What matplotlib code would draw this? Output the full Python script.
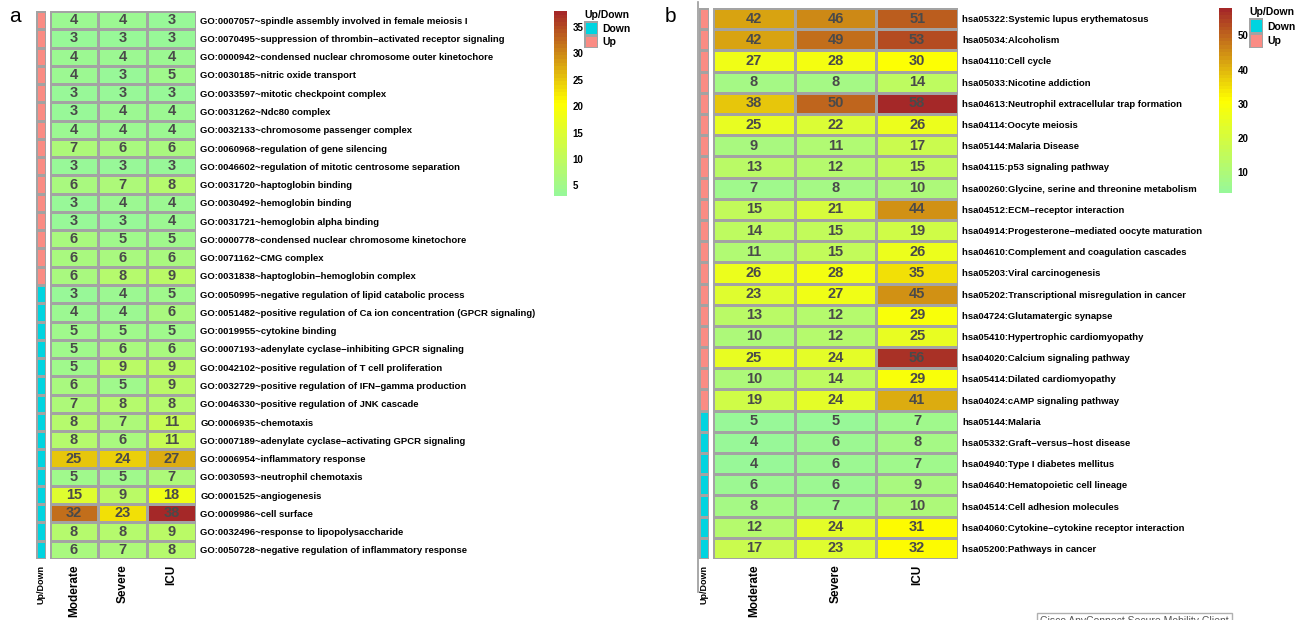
import numpy as np
import matplotlib
matplotlib.use('Agg')
import matplotlib.pyplot as plt
from matplotlib.colors import LinearSegmentedColormap, ListedColormap

plt.rcParams['font.family'] = ['Liberation Sans', 'DejaVu Sans']

# ---------------- data ----------------
conditions = ['Moderate', 'Severe', 'ICU']

go_terms = [
    'GO:0007057~spindle assembly involved in female meiosis I',
    'GO:0070495~suppression of thrombin\u2212activated receptor signaling',
    'GO:0000942~condensed nuclear chromosome outer kinetochore',
    'GO:0030185~nitric oxide transport',
    'GO:0033597~mitotic checkpoint complex',
    'GO:0031262~Ndc80 complex',
    'GO:0032133~chromosome passenger complex',
    'GO:0060968~regulation of gene silencing',
    'GO:0046602~regulation of mitotic centrosome separation',
    'GO:0031720~haptoglobin binding',
    'GO:0030492~hemoglobin binding',
    'GO:0031721~hemoglobin alpha binding',
    'GO:0000778~condensed nuclear chromosome kinetochore',
    'GO:0071162~CMG complex',
    'GO:0031838~haptoglobin\u2212hemoglobin complex',
    'GO:0050995~negative regulation of lipid catabolic process',
    'GO:0051482~positive regulation of Ca ion concentration (GPCR signaling)',
    'GO:0019955~cytokine binding',
    'GO:0007193~adenylate cyclase\u2212inhibiting GPCR signaling',
    'GO:0042102~positive regulation of T cell proliferation',
    'GO:0032729~positive regulation of IFN\u2212gamma production',
    'GO:0046330~positive regulation of JNK cascade',
    'GO:0006935~chemotaxis',
    'GO:0007189~adenylate cyclase\u2212activating GPCR signaling',
    'GO:0006954~inflammatory response',
    'GO:0030593~neutrophil chemotaxis',
    'GO:0001525~angiogenesis',
    'GO:0009986~cell surface',
    'GO:0032496~response to lipopolysaccharide',
    'GO:0050728~negative regulation of inflammatory response',
]
go_moderate = [4, 3, 4, 4, 3, 3, 4, 7, 3, 6, 3, 3, 6, 6, 6,
               3, 4, 5, 5, 5, 6, 7, 8, 8, 25, 5, 15, 32, 8, 6]
go_severe = [4, 3, 4, 3, 3, 4, 4, 6, 3, 7, 4, 3, 5, 6, 8,
             4, 4, 5, 6, 9, 5, 8, 7, 6, 24, 5, 9, 23, 8, 7]
go_icu = [3, 3, 4, 5, 3, 4, 4, 6, 3, 8, 4, 4, 5, 6, 9,
          5, 6, 5, 6, 9, 9, 8, 11, 11, 27, 7, 18, 38, 9, 8]
go_updown = ['Up', 'Up', 'Up', 'Up', 'Up', 'Up', 'Up', 'Up', 'Up', 'Up',
             'Up', 'Up', 'Up', 'Up', 'Up',
             'Down', 'Down', 'Down', 'Down', 'Down', 'Down', 'Down', 'Down',
             'Down', 'Down', 'Down', 'Down', 'Down', 'Down', 'Down']

kegg_terms = [
    'hsa05322:Systemic lupus erythematosus',
    'hsa05034:Alcoholism',
    'hsa04110:Cell cycle',
    'hsa05033:Nicotine addiction',
    'hsa04613:Neutrophil extracellular trap formation',
    'hsa04114:Oocyte meiosis',
    'hsa05144:Malaria Disease',
    'hsa04115:p53 signaling pathway',
    'hsa00260:Glycine, serine and threonine metabolism',
    'hsa04512:ECM\u2212receptor interaction',
    'hsa04914:Progesterone\u2212mediated oocyte maturation',
    'hsa04610:Complement and coagulation cascades',
    'hsa05203:Viral carcinogenesis',
    'hsa05202:Transcriptional misregulation in cancer',
    'hsa04724:Glutamatergic synapse',
    'hsa05410:Hypertrophic cardiomyopathy',
    'hsa04020:Calcium signaling pathway',
    'hsa05414:Dilated cardiomyopathy',
    'hsa04024:cAMP signaling pathway',
    'hsa05144:Malaria',
    'hsa05332:Graft\u2212versus\u2212host disease',
    'hsa04940:Type I diabetes mellitus',
    'hsa04640:Hematopoietic cell lineage',
    'hsa04514:Cell adhesion molecules',
    'hsa04060:Cytokine\u2212cytokine receptor interaction',
    'hsa05200:Pathways in cancer',
]
kegg_moderate = [42, 42, 27, 8, 38, 25, 9, 13, 7, 15, 14, 11, 26, 23, 13,
                 10, 25, 10, 19, 5, 4, 4, 6, 8, 12, 17]
kegg_severe = [46, 49, 28, 8, 50, 22, 11, 12, 8, 21, 15, 15, 28, 27, 12,
               12, 24, 14, 24, 5, 6, 6, 6, 7, 24, 23]
kegg_icu = [51, 53, 30, 14, 58, 26, 17, 15, 10, 44, 19, 26, 35, 45, 29,
            25, 56, 29, 41, 7, 8, 7, 9, 10, 31, 32]
kegg_updown = ['Up'] * 19 + ['Down'] * 7

updown_levels = ['Down', 'Up']
updown_colors = ['#00D4E0', '#FA8C84']

# ---------------- style ----------------
W, H = 1307, 620
grid_col = '#A3A3A3'
heat_cmap = LinearSegmentedColormap.from_list(
    'gyr', ['#98F898', '#FFFF00', '#A52828']).resampled(50)
ud_cmap = ListedColormap(updown_colors)


def px(l, t, w, h):
    # pixel box (left, top, width, height) -> figure fraction rect
    return [l / W, 1 - (t + h) / H, w / W, h / H]


def bold(labels):
    for t in labels:
        t.set_fontweight('bold')


def draw_panel(fig, terms, mod, sev, icu, updown, heat_box, ann_box,
               cb_box, leg_box, cb_ticks):
    vals = np.column_stack([mod, sev, icu])
    n = len(terms)

    # Up/Down annotation column
    codes = np.array([[updown_levels.index(u)] for u in updown])
    ax_a = fig.add_axes(px(*ann_box))
    ax_a.pcolormesh(codes, cmap=ud_cmap, vmin=0, vmax=1,
                    edgecolors=grid_col, linewidth=0.9)
    ax_a.set_xlim(0, 1)
    ax_a.set_ylim(n, 0)
    ax_a.set_yticks([])
    ax_a.set_xticks([0.5], ['Up/Down'], rotation=90, fontsize=6.5,
                    fontweight='bold', va='top')
    ax_a.tick_params(length=0, pad=4)
    for s in ax_a.spines.values():
        s.set_visible(False)

    # main heatmap
    ax = fig.add_axes(px(*heat_box))
    mesh = ax.pcolormesh(vals, cmap=heat_cmap, vmin=vals.min(),
                         vmax=vals.max(), edgecolors=grid_col, linewidth=0.9)
    ax.set_xlim(0, 3)
    ax.set_ylim(n, 0)
    for i in range(n):
        for j in range(3):
            ax.text(j + 0.5, i + 0.5, str(vals[i, j]), ha='center',
                    va='center', fontsize=10.5, fontweight='bold',
                    color='#4A4A4A')
    ax.yaxis.tick_right()
    ax.set_yticks(np.arange(n) + 0.5, terms, fontsize=6.8, fontweight='bold')
    ax.set_xticks(np.arange(3) + 0.5, conditions, rotation=90, fontsize=8.5,
                  fontweight='bold', va='top')
    ax.tick_params(length=0)
    ax.tick_params(axis='y', pad=3)
    ax.tick_params(axis='x', pad=4)
    for s in ax.spines.values():
        s.set_visible(False)

    # colour bar
    cax = fig.add_axes(px(*cb_box))
    cb = fig.colorbar(mesh, cax=cax, ticks=cb_ticks)
    cb.outline.set_visible(False)
    cax.tick_params(length=0, labelsize=7, pad=4)
    bold(cax.get_yticklabels())

    # legend for Up/Down
    lax = fig.add_axes(px(*leg_box))
    lax.pcolormesh(np.array([[0], [1]]), cmap=ud_cmap, vmin=0, vmax=1,
                   edgecolors=grid_col, linewidth=0.9)
    lax.set_xlim(0, 1)
    lax.set_ylim(2, 0)
    lax.yaxis.tick_right()
    lax.set_yticks([0.5, 1.5], updown_levels, fontsize=7.5,
                   fontweight='bold')
    lax.set_xticks([])
    lax.tick_params(length=0, pad=3)
    for s in lax.spines.values():
        s.set_visible(False)
    lax.text(0, 1.04, 'Up/Down', transform=lax.transAxes, ha='left',
             va='bottom', fontsize=7.5, fontweight='bold')


fig = plt.figure(figsize=(W / 100, H / 100), dpi=100)

draw_panel(fig, go_terms, go_moderate, go_severe, go_icu, go_updown,
           heat_box=(49.5, 11, 146.5, 548), ann_box=(36, 11, 10, 548),
           cb_box=(554, 11, 13, 185), leg_box=(584, 21, 14, 27),
           cb_ticks=[5, 10, 15, 20, 25, 30, 35])

draw_panel(fig, kegg_terms, kegg_moderate, kegg_severe, kegg_icu, kegg_updown,
           heat_box=(713, 8, 245, 551), ann_box=(699, 8, 10, 551),
           cb_box=(1219, 8, 13, 185), leg_box=(1249, 18, 14, 30),
           cb_ticks=[10, 20, 30, 40, 50])

# panel letters and separator
fig.text(15 / W, 1 - 16 / H, 'a', fontsize=15, ha='center', va='center')
fig.text(670 / W, 1 - 16 / H, 'b', fontsize=15, ha='center', va='center')
fig.add_artist(plt.Line2D([697.5 / W, 697.5 / W], [1 - 2 / H, 1 - 592 / H],
                          color='#9A9A9A', linewidth=1.2))

# stray taskbar tooltip visible in the screenshot
fig.text(1040 / W, 1 - 621 / H, 'Cisco AnyConnect Secure Mobility Client',
         fontsize=7.5, color='#555555', ha='left', va='center',
         bbox=dict(facecolor='white', edgecolor='#B0B0B0', pad=2.5))

fig.savefig('out.png', dpi=100)
